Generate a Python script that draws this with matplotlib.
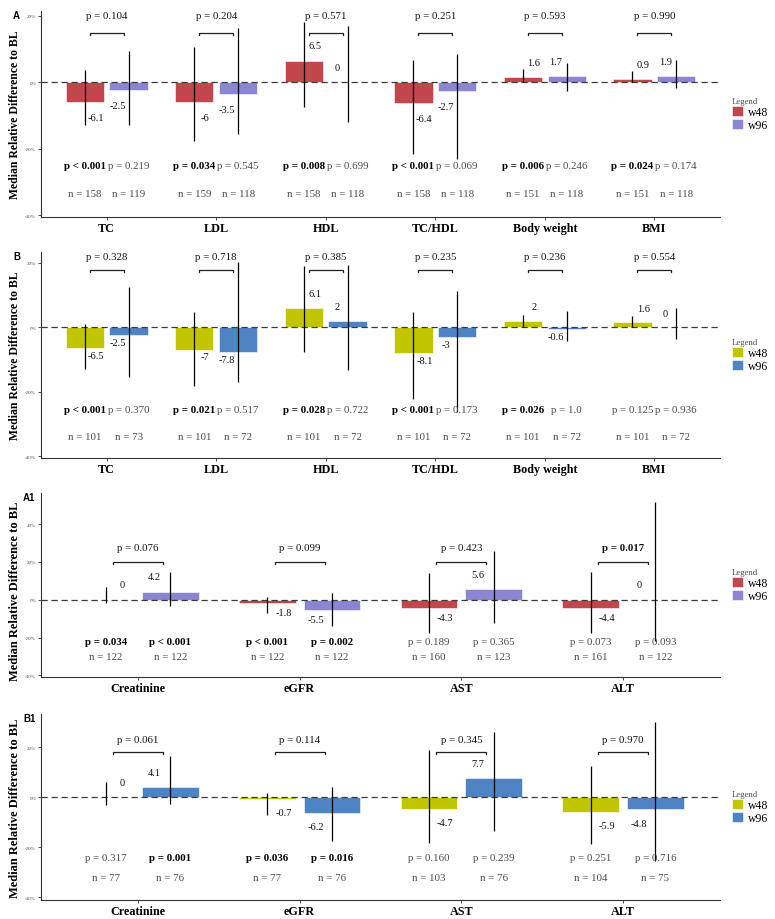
import numpy as np
import matplotlib
matplotlib.use("Agg")
from matplotlib import pyplot as plt

plt.rcParams['font.family'] = ['Liberation Serif', 'DejaVu Serif']

# ---------------------------------------------------------------
# data (median relative difference to BL, %)
cats_lipid = ["TC", "LDL", "HDL", "TC/HDL", "Body weight", "BMI"]
cats_liver = ["Creatinine", "eGFR", "AST", "ALT"]

# panel A
a_w48 = [-6.1, -6, 6.5, -6.4, 1.6, 0.9]
a_w96 = [-2.5, -3.5, 0, -2.7, 1.7, 1.9]
a_w48_lo = [-12.8, -17.8, -7.6, -21.6, 0, 0]
a_w48_hi = [3.5, 10.6, 18.2, 6.6, 3.9, 3.3]
a_w96_lo = [-12.8, -15.6, -12, -23, -2.7, -1.9]
a_w96_hi = [9.5, 16.2, 16.8, 8.6, 5.6, 6.8]
a_p_between = ["= 0.104", "= 0.204", "= 0.571", "= 0.251", "= 0.593", "= 0.990"]
a_p_w48 = ["< 0.001", "= 0.034", "= 0.008", "< 0.001", "= 0.006", "= 0.024"]
a_p_w96 = ["= 0.219", "= 0.545", "= 0.699", "= 0.069", "= 0.246", "= 0.174"]
a_n_w48 = [158, 159, 158, 158, 151, 151]
a_n_w96 = [119, 118, 118, 118, 118, 118]

# panel B
b_w48 = [-6.5, -7, 6.1, -8.1, 2, 1.6]
b_w96 = [-2.5, -7.8, 2, -3, -0.6, 0]
b_w48_lo = [-13, -18.1, -7.6, -22.3, 0, 0]
b_w48_hi = [1.0, 4.8, 19.1, 4.7, 3.8, 3.6]
b_w96_lo = [-15.5, -16.9, -13.2, -26.3, -4.2, -3.6]
b_w96_hi = [12.4, 20.4, 19.4, 11.4, 5, 6]
b_p_between = ["= 0.328", "= 0.718", "= 0.385", "= 0.235", "= 0.236", "= 0.554"]
b_p_w48 = ["< 0.001", "= 0.021", "= 0.028", "< 0.001", "= 0.026", "= 0.125"]
b_p_w96 = ["= 0.370", "= 0.517", "= 0.722", "= 0.173", "= 1.0", "= 0.936"]
b_n_w48 = [101, 101, 101, 101, 101, 101]
b_n_w96 = [73, 72, 72, 72, 72, 72]

# panel A1
a1_w48 = [0, -1.8, -4.3, -4.4]
a1_w96 = [4.2, -5.5, 5.6, 0]
a1_w48_lo = [-1.7, -7, -17.6, -17.6]
a1_w48_hi = [6.6, 1.2, 14.1, 14.8]
a1_w96_lo = [-3.2, -14.1, -12.3, -21.6]
a1_w96_hi = [14.8, 3.5, 25.9, 51.8]
a1_p_between = ["= 0.076", "= 0.099", "= 0.423", "= 0.017"]
a1_p_w48 = ["= 0.034", "< 0.001", "= 0.189", "= 0.073"]
a1_p_w96 = ["< 0.001", "= 0.002", "= 0.365", "= 0.093"]
a1_n_w48 = [122, 122, 160, 161]
a1_n_w96 = [122, 122, 123, 122]

# panel B1
b1_w48 = [0, -0.7, -4.7, -5.9]
b1_w96 = [4.1, -6.2, 7.7, -4.8]
b1_w48_lo = [-3.1, -7.1, -18.3, -18.7]
b1_w48_hi = [6.3, 1.7, 19, 12.4]
b1_w96_lo = [-2.7, -17.3, -13.3, -25.3]
b1_w96_hi = [16.4, 4, 26, 30.2]
b1_p_between = ["= 0.061", "= 0.114", "= 0.345", "= 0.970"]
b1_p_w48 = ["= 0.317", "= 0.036", "= 0.160", "= 0.251"]
b1_p_w96 = ["= 0.001", "= 0.016", "= 0.239", "= 0.716"]
b1_n_w48 = [77, 77, 103, 104]
b1_n_w96 = [76, 76, 76, 75]

col_a = ["#C2474C", "#8A86D2"]
col_b = ["#C2C600", "#4E84C4"]
# ---------------------------------------------------------------

W, H = 775, 920
fig = plt.figure(figsize=(W / 100, H / 100), dpi=100)


def px_axes(left, top, right, bottom):
    return fig.add_axes([left / W, 1 - bottom / H, (right - left) / W, (bottom - top) / H])


def is_sig(p):
    return p.startswith('<') or float(p.split()[-1]) < 0.05


def draw_panel(ax, cats, w48, w96, w48_lo, w48_hi, w96_lo, w96_hi,
               p_between, p_w48, p_w96, n_w48, n_w96, colors, ylim, yticks, lay):
    x = np.arange(len(cats))
    d, bw = 0.2, 0.35
    pxper = (ax.bbox.height) / (ylim[1] - ylim[0])  # pixels per % unit

    bars1 = ax.bar(x - d, w48, bw, color=colors[0], edgecolor='white', linewidth=0.4, label='w48', zorder=2)
    bars2 = ax.bar(x + d, w96, bw, color=colors[1], edgecolor='white', linewidth=0.4, label='w96', zorder=2)
    ax.axhline(0, color='#3a3a3a', ls=(0, (5, 3)), lw=0.9, zorder=3)
    ax.vlines(x - d, w48_lo, w48_hi, color='black', lw=0.9, zorder=4)
    ax.vlines(x + d, w96_lo, w96_hi, color='black', lw=0.9, zorder=4)

    tk = 2.0 / pxper
    for i in x:
        # value labels
        for v, xx in ((w48[i], i - 0.1), (w96[i], i + 0.1)):
            yy = v + lay['pos'] if v >= 0 else v + lay['neg']
            ax.text(xx, yy, f"{v:g}", ha='center', va='center', fontsize=7.5, color='#111111', zorder=5)
        # between-group bracket
        yb = lay['br']
        ax.plot([i - 0.155, i - 0.155, i + 0.155, i + 0.155], [yb - tk, yb, yb, yb - tk],
                color='#222222', lw=0.9, zorder=4)
        ax.text(i, lay['brt'], "p " + p_between[i], ha='center', va='center', fontsize=7.8,
                fontweight='bold' if is_sig(p_between[i]) else 'normal', color='#111111')
        # p vs BL and n per group
        for p, n, xx in ((p_w48[i], n_w48[i], i - d), (p_w96[i], n_w96[i], i + d)):
            sig = is_sig(p)
            ax.text(xx, lay['prow'], "p " + p, ha='center', va='center', fontsize=7.8,
                    fontweight='bold' if sig else 'normal', color='black' if sig else '#4a4a4a', zorder=5)
            ax.text(xx, lay['nrow'], f"n = {n}", ha='center', va='center', fontsize=7.8,
                    color='#4a4a4a', zorder=5)

    ax.set_xlim(-0.6, len(cats) - 0.4)
    ax.set_ylim(*ylim)
    ax.set_xticks(x)
    ax.set_xticklabels(cats, fontweight='bold', fontsize=8.7)
    ax.set_yticks(yticks)
    ax.set_yticklabels([f"{t}%" for t in yticks])
    ax.tick_params(axis='y', labelsize=3.6, labelcolor='#4d4d4d', length=2, width=0.6, colors='#333333', pad=1.5)
    ax.tick_params(axis='x', length=2, width=0.6, colors='#333333', labelcolor='black', pad=1.5)
    for s in ('top', 'right'):
        ax.spines[s].set_visible(False)
    for s in ('left', 'bottom'):
        ax.spines[s].set_color('#333333')
        ax.spines[s].set_linewidth(0.8)
    ax.set_facecolor('none')
    ax.set_ylabel("Median Relative Difference to BL", fontsize=lay['ylsize'], fontweight='bold')
    ax.yaxis.set_label_coords(-0.0295, lay['ylpos'])

    leg = ax.legend(handles=[bars1, bars2], title='Legend', loc='center left',
                    bbox_to_anchor=(1.017, 0.5), frameon=False, fontsize=8.5,
                    title_fontsize=6.3, handlelength=0.95, handleheight=1.0,
                    handletextpad=0.45, labelspacing=0.05, borderpad=0, borderaxespad=0,
                    alignment='left')
    leg.get_title().set_color('#4d4d4d')


axA = px_axes(41, 12, 720, 218)
axB = px_axes(41, 253, 720, 459)
axA1 = px_axes(41, 494, 720, 678)
axB1 = px_axes(41, 715, 720, 901)

draw_panel(axA, cats_lipid, a_w48, a_w96, a_w48_lo, a_w48_hi, a_w96_lo, a_w96_hi,
           a_p_between, a_p_w48, a_p_w96, a_n_w48, a_n_w96, col_a,
           (-40.6, 21.4), [-40, -20, 0, 20],
           dict(pos=4.4, neg=-4.6, br=14.8, brt=20.0, prow=-25.2, nrow=-33.4, ylsize=8.5, ylpos=0.5))
draw_panel(axB, cats_lipid, b_w48, b_w96, b_w48_lo, b_w48_hi, b_w96_lo, b_w96_hi,
           b_p_between, b_p_w48, b_p_w96, b_n_w48, b_n_w96, col_b,
           (-40.6, 23.4), [-40, -20, 0, 20],
           dict(pos=4.4, neg=-2.2, br=17.8, brt=22.0, prow=-25.4, nrow=-33.8, ylsize=8.5, ylpos=0.5))
draw_panel(axA1, cats_liver, a1_w48, a1_w96, a1_w48_lo, a1_w48_hi, a1_w96_lo, a1_w96_hi,
           a1_p_between, a1_p_w48, a1_p_w96, a1_n_w48, a1_n_w96, col_a,
           (-40.9, 56.5), [-40, -20, 0, 20, 40],
           dict(pos=8.0, neg=-5.2, br=20.1, brt=27.7, prow=-22.0, nrow=-29.9, ylsize=9, ylpos=0.47))
draw_panel(axB1, cats_liver, b1_w48, b1_w96, b1_w48_lo, b1_w48_hi, b1_w96_lo, b1_w96_hi,
           b1_p_between, b1_p_w48, b1_p_w96, b1_n_w48, b1_n_w96, col_b,
           (-41.0, 33.3), [-40, -20, 0, 20],
           dict(pos=6.0, neg=-5.5, br=18.0, brt=23.3, prow=-24.0, nrow=-32.0, ylsize=9, ylpos=0.5))

for tag, xx, yy in (("A", 13, 16), ("B", 13, 257), ("A1", 23, 498), ("B1", 23, 719)):
    fig.text(xx / W, 1 - yy / H, tag, ha='left', va='center', fontsize=7,
             fontweight='bold', family=['Liberation Sans', 'DejaVu Sans'])

fig.savefig("out.png", dpi=100)
